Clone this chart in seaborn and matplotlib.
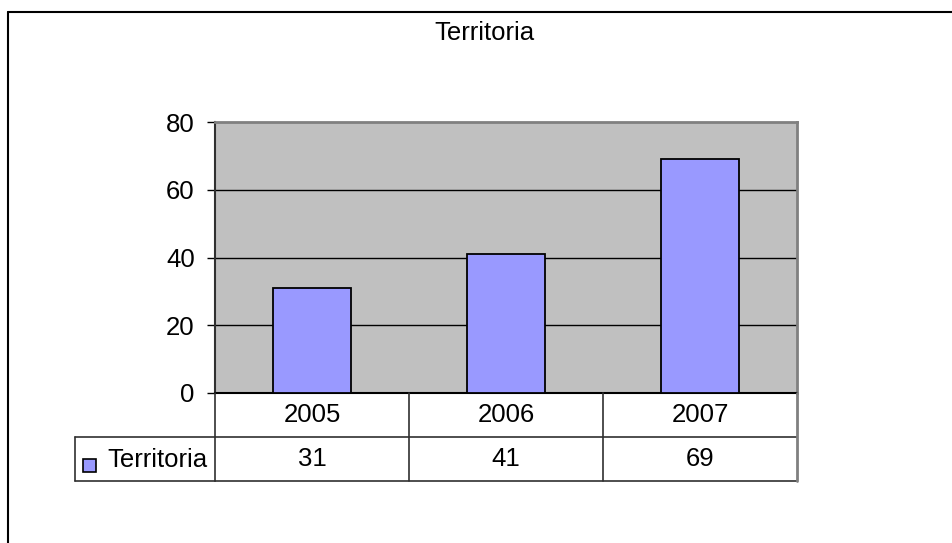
import matplotlib
matplotlib.use("Agg")
import matplotlib.pyplot as plt
from matplotlib.lines import Line2D
from matplotlib.patches import Rectangle
import seaborn as sns
import pandas as pd

# ---- data ----
years = ["2005", "2006", "2007"]
values = [31, 41, 69]
series_name = "Territoria"
title = "Territoria"
y_ticks = [0, 20, 40, 60, 80]

sns.set_style("white")
plt.rcParams['font.family'] = ['Liberation Sans', 'DejaVu Sans']
plt.rcParams['text.color'] = 'black'
plt.rcParams['ytick.color'] = 'black'
plt.rcParams['xtick.color'] = 'black'
plt.rcParams['axes.labelcolor'] = 'black'

FS = 18.5
W, H = 953, 543
fig = plt.figure(figsize=(W / 100, H / 100), dpi=100)

L, R, T, B = 215, 797, 122, 393
ax = fig.add_axes([L / W, 1 - B / H, (R - L) / W, (B - T) / H])
ax.set_facecolor("#C0C0C0")

df = pd.DataFrame({"year": years, "value": values})
sns.barplot(data=df, x="year", y="value", ax=ax, color="#9999FF",
            saturation=1, width=0.4, edgecolor="black", linewidth=1.3, zorder=3)

ax.set_xlim(-0.5, len(years) - 0.5)
ax.set_ylim(0, 80)
ax.set_yticks(y_ticks)
ax.set_yticklabels([str(t) for t in y_ticks], fontsize=FS, color="black")
ax.set_xticks([])
ax.set_xlabel("")
ax.set_ylabel("")
for yv in y_ticks[1:-1]:
    ax.axhline(yv, color="black", lw=1.0, zorder=1)
ax.tick_params(axis="y", direction="out", length=6, width=1, pad=8.5, color="black", left=True)

for s in ["top", "right"]:
    ax.spines[s].set_color("#808080")
    ax.spines[s].set_linewidth(2)
ax.spines["left"].set_color("#303030")
ax.spines["left"].set_linewidth(1.5)
ax.spines["bottom"].set_color("black")
ax.spines["bottom"].set_linewidth(1.5)

# ---- data table ----
row_h = 44 / (B - T)
xt = ax.get_xaxis_transform()
n = len(years)
edges = [i - 0.5 for i in range(n + 1)]
line_kw = dict(color="#303030", lw=1.2, clip_on=False, zorder=5)
ax.add_line(Line2D([-0.5, n - 0.5], [-row_h, -row_h], transform=xt, **line_kw))
ax.add_line(Line2D([-0.5, n - 0.5], [-2 * row_h, -2 * row_h], transform=xt, **line_kw))
for i, e in enumerate(edges):
    kw = dict(line_kw)
    if i == n:
        kw["color"] = "#808080"
        kw["lw"] = 2
    ax.add_line(Line2D([e, e], [0, -2 * row_h], transform=xt, **kw))
lx = (75 - L) / (R - L)
at = ax.transAxes
ax.add_line(Line2D([lx, 0], [-row_h, -row_h], transform=at, **line_kw))
ax.add_line(Line2D([lx, 0], [-2 * row_h, -2 * row_h], transform=at, **line_kw))
ax.add_line(Line2D([lx, lx], [-row_h, -2 * row_h], transform=at, **line_kw))

for i, (yr, v) in enumerate(zip(years, values)):
    ax.text(i, -0.5 * row_h, yr, transform=xt, ha="center", va="center",
            fontsize=FS, clip_on=False)
    ax.text(i, -1.5 * row_h, str(v), transform=xt, ha="center", va="center",
            fontsize=FS, clip_on=False)

# legend key square
fig.add_artist(Rectangle((83 / W, 1 - 472 / H), 13 / W, 13 / H, transform=fig.transFigure,
                         facecolor="#9999FF", edgecolor="black", lw=1.2))
fig.text(107 / W, 1 - 460 / H, series_name, ha="left", va="center", fontsize=FS)

# title
fig.text(484 / W, 1 - 40 / H, title, ha="center", va="baseline", fontsize=FS)

# outer chart border (top and left visible)
fig.add_artist(Line2D([8 / W, 1.0], [1 - 12 / H, 1 - 12 / H], transform=fig.transFigure,
                      color="black", lw=1.5))
fig.add_artist(Line2D([8 / W, 8 / W], [1 - 12 / H, 0.0], transform=fig.transFigure,
                      color="black", lw=1.5))

fig.savefig("out.png", dpi=100)
